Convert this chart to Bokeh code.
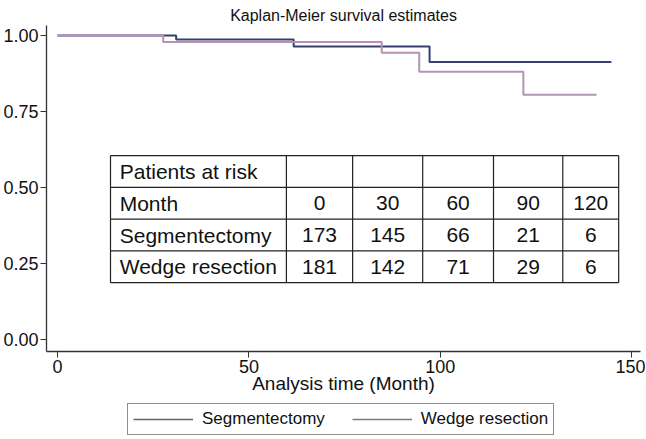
from bokeh.plotting import figure
from bokeh.models import (Range1d, FixedTicker, NumeralTickFormatter, Legend, LegendItem)
from bokeh.layouts import column
from bokeh.core.properties import value
from bokeh.embed import file_html
from bokeh.resources import INLINE

# ---- data ----
seg_time = [0, 31.0, 61.7, 97.2, 144.7]
seg_surv = [1.0, 0.987, 0.964, 0.913, 0.913]
wedge_time = [0, 27.6, 84.7, 94.5, 121.7, 140.8]
wedge_surv = [1.0, 0.979, 0.943, 0.881, 0.805, 0.805]

risk_months = [0, 30, 60, 90, 120]
risk_seg = [173, 145, 66, 21, 6]
risk_wedge = [181, 142, 71, 29, 6]
row_labels = ["Patients at risk", "Month", "Segmentectomy", "Wedge resection"]

x_ticks = [0, 50, 100, 150]
y_ticks = [0, 0.25, 0.5, 0.75, 1.0]

SEG_COLOR = "#393e70"
WEDGE_COLOR = "#b592b3"
FONT = "Liberation Sans"
W = 645

p = figure(width=W, height=401, output_backend="svg", toolbar_location=None,
           x_range=Range1d(-2.87, 152.3), y_range=Range1d(-0.0395, 1.033),
           min_border_left=46, min_border_right=5, min_border_top=25, min_border_bottom=50)
p.title.text = "Kaplan-Meier survival estimates"
p.title.align = "center"
p.title.text_font = FONT
p.title.text_font_size = "16px"
p.title.text_font_style = "normal"
p.title.text_color = "#111111"
p.title.standoff = 4

p.xgrid.visible = False
p.ygrid.visible = False
p.outline_line_color = None
p.background_fill_color = "white"
p.border_fill_color = "white"

for ax in (p.xaxis[0], p.yaxis[0]):
    ax.axis_line_color = "#333333"
    ax.axis_line_width = 1.3
    ax.major_tick_line_color = "#333333"
    ax.major_tick_out = 6
    ax.major_tick_in = 0
    ax.minor_tick_line_color = None
    ax.major_label_text_font = FONT
    ax.major_label_text_font_size = "18px"
    ax.major_label_text_color = "#111111"
    ax.major_label_standoff = 2

p.xaxis.ticker = FixedTicker(ticks=x_ticks)
p.yaxis.ticker = FixedTicker(ticks=y_ticks)
p.yaxis.formatter = NumeralTickFormatter(format="0.00")
p.xaxis.axis_label = "Analysis time (Month)"
p.xaxis.axis_label_text_font = FONT
p.xaxis.axis_label_text_font_size = "19px"
p.xaxis.axis_label_text_font_style = "normal"
p.xaxis.axis_label_text_color = "#111111"
p.xaxis.axis_label_standoff = -3

# ---- curves ----
p.step(seg_time, seg_surv, mode="after", line_color=SEG_COLOR, line_width=2)
p.step(wedge_time, wedge_surv, mode="after", line_color=WEDGE_COLOR, line_width=2)

# ---- risk table (data coordinates inside plot area) ----
tbl_left, tbl_right = 13.85, 146.6
col_edges = [tbl_left, 59.8, 77.1, 95.4, 113.9, 132.0, tbl_right]
tbl_top, row_h = 0.605, 0.1045
n_rows = 4
row_edges = [tbl_top - i * row_h for i in range(n_rows + 1)]

p.segment(x0=[tbl_left] * len(row_edges), y0=row_edges,
          x1=[tbl_right] * len(row_edges), y1=row_edges,
          line_color="#222222", line_width=1.2)
p.segment(x0=col_edges, y0=[row_edges[0]] * len(col_edges),
          x1=col_edges, y1=[row_edges[-1]] * len(col_edges),
          line_color="#222222", line_width=1.2)

row_centers = [(row_edges[i] + row_edges[i + 1]) / 2 for i in range(n_rows)]
p.text(x=[tbl_left + 2.4] * n_rows, y=row_centers, text=row_labels,
       text_font=value(FONT), text_font_size="21px", text_color="#111111",
       text_align="left", text_baseline="middle")

col_centers = [(col_edges[i] + col_edges[i + 1]) / 2 for i in range(1, len(col_edges) - 1)]
cell_x, cell_y, cell_t = [], [], []
for r, vals in ((1, risk_months), (2, risk_seg), (3, risk_wedge)):
    for cx, v in zip(col_centers, vals):
        cell_x.append(cx)
        cell_y.append(row_centers[r])
        cell_t.append(str(v))
p.text(x=cell_x, y=cell_y, text=cell_t,
       text_font=value(FONT), text_font_size="21px", text_color="#111111",
       text_align="center", text_baseline="middle")

# ---- legend strip (separate small figure below the chart) ----
lp = figure(width=W, height=37, output_backend="svg", toolbar_location=None,
            x_axis_type=None, y_axis_type=None,
            x_range=Range1d(0, 1), y_range=Range1d(0, 1),
            min_border_left=0, min_border_right=0, min_border_top=0, min_border_bottom=0)
lp.xgrid.visible = False
lp.ygrid.visible = False
lp.outline_line_color = None
lg_seg = lp.line([-5, -4], [-5, -4], line_color="#5f6670", line_width=1.5)
lg_wedge = lp.line([-5, -4], [-5, -4], line_color="#8a7579", line_width=1.5)
legend = Legend(items=[LegendItem(label="Segmentectomy", renderers=[lg_seg]),
                       LegendItem(label="Wedge resection", renderers=[lg_wedge])],
                orientation="horizontal", location=(81, 3),
                border_line_color="#222222", border_line_width=1.2,
                glyph_width=60, label_standoff=9, spacing=27,
                padding=5, margin=0,
                label_text_font=FONT, label_text_font_size="17px",
                label_text_color="#111111")
lp.add_layout(legend, "center")

layout = column(p, lp, spacing=0)
open("out.html", "w").write(file_html(layout, INLINE))
